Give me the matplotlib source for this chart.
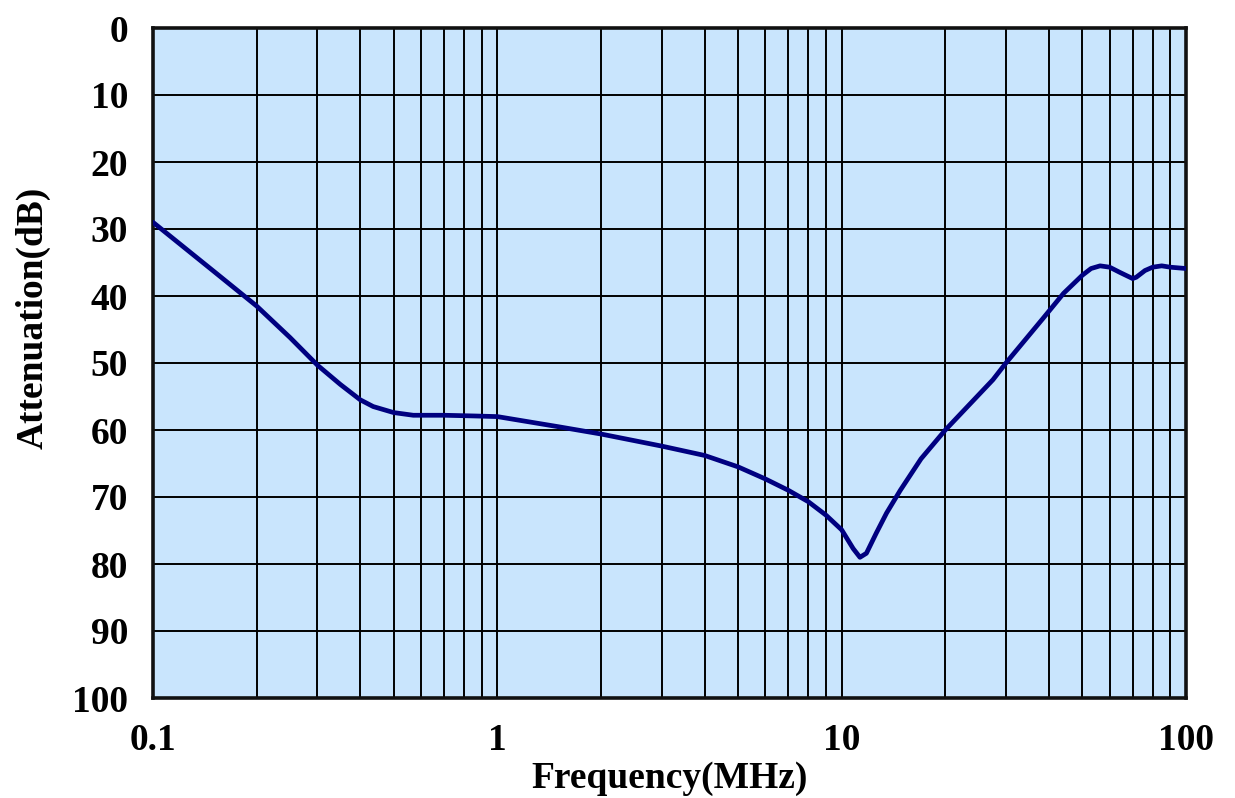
import matplotlib
matplotlib.use("Agg")
import matplotlib.pyplot as plt
import numpy as np

# attenuation curve (frequency in MHz, attenuation in dB)
freq = [0.1, 0.15, 0.2, 0.25, 0.3, 0.35, 0.4, 0.436, 0.5, 0.57, 0.7, 0.85, 1.0,
        1.5, 2, 3, 4, 5, 6, 7, 8, 9, 10, 10.8, 11.3, 11.8, 12.6, 13.5,
        14.8, 17, 20, 27.5, 30, 38.5, 44.1, 50, 53, 56.3, 60, 64.4, 70, 71.7,
        76, 80, 85, 90, 100]
atten = [29.0, 36.3, 41.5, 46.2, 50.3, 53.2, 55.5, 56.5, 57.4, 57.8, 57.8, 57.9,
         58.0, 59.5, 60.6, 62.4, 63.8, 65.5, 67.3, 69.0, 70.7, 72.7, 74.9,
         77.7, 79.0, 78.4, 75.4, 72.4, 69.0, 64.3, 60.0, 52.5, 50.0, 43.3, 39.6,
         36.9, 35.9, 35.5, 35.7, 36.5, 37.4, 37.2, 36.2, 35.7, 35.5, 35.7, 35.9]

x_ticks = [0.1, 1, 10, 100]
x_labels = ["0.1", "1", "10", "100"]
y_ticks = list(range(0, 101, 10))

plt.rcParams['font.family'] = ['Liberation Serif', 'DejaVu Serif']
plt.rcParams['font.weight'] = 'bold'

fig = plt.figure(figsize=(12.35, 7.98), dpi=100)
ax = fig.add_axes([153 / 1235, 1 - 698 / 798, 1033 / 1235, 670 / 798])
ax.set_facecolor('#c9e5fd')

ax.plot(freq, atten, color='#000080', lw=3.4, solid_capstyle='round',
        solid_joinstyle='round', zorder=3)

ax.set_xscale('log')
ax.set_xlim(0.1, 100)
ax.set_ylim(100, 0)
ax.set_xticks(x_ticks)
ax.set_xticklabels(x_labels)
ax.set_yticks(y_ticks)

ax.grid(True, which='major', color='black', lw=1.4, zorder=1)
ax.grid(True, which='minor', axis='x', color='black', lw=1.4, zorder=1)
ax.set_axisbelow(True)
ax.tick_params(which='both', length=0)
ax.tick_params(axis='x', pad=18, labelsize=27)
ax.tick_params(axis='y', pad=18, labelsize=27)
for sp in ax.spines.values():
    sp.set_linewidth(2.6)
    sp.set_color('#111111')

ax.set_xlabel('Frequency(MHz)', fontsize=27, fontweight='bold', labelpad=2)
ax.set_ylabel('Attenuation(dB)', fontsize=27, fontweight='bold')
ax.yaxis.set_label_coords(-0.099, 0.567)

fig.savefig('out.png', dpi=100)
